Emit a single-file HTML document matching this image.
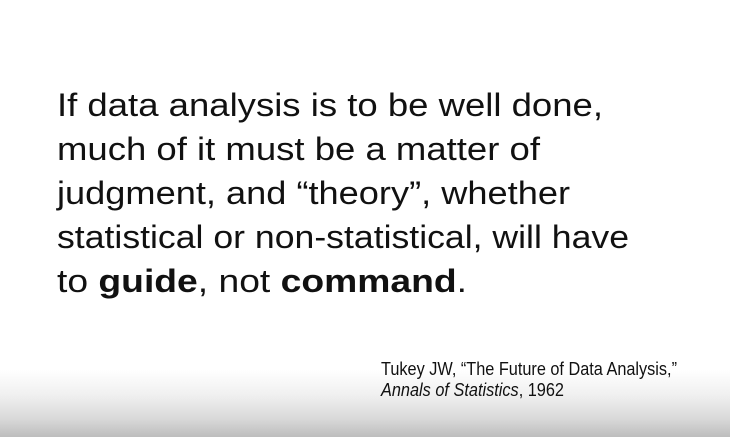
<!DOCTYPE html>
<html><head><meta charset="utf-8"><style>
html,body{margin:0;padding:0;}
body{width:730px;height:437px;overflow:hidden;background:linear-gradient(to bottom,#fff 0px,#fff 370px,#f0f0f0 395px,#dadada 418px,#bdbdbd 437px);}
svg{display:block;}
text{font-family:"Liberation Sans",sans-serif;fill:#111;}
</style></head><body>
<svg width="730" height="437">
<g font-size="32">
<text x="57" y="116" textLength="546" lengthAdjust="spacingAndGlyphs">If data analysis is to be well done,</text>
<text x="57" y="160" textLength="483" lengthAdjust="spacingAndGlyphs">much of it must be a matter of</text>
<text x="57" y="204" textLength="513" lengthAdjust="spacingAndGlyphs">judgment, and “theory”, whether</text>
<text x="57" y="248" textLength="572" lengthAdjust="spacingAndGlyphs">statistical or non-statistical, will have</text>
<text x="57" y="292" textLength="410" lengthAdjust="spacingAndGlyphs">to <tspan font-weight="bold">guide</tspan>, not <tspan font-weight="bold">command</tspan>.</text>
</g>
<g font-size="18">
<text x="381" y="375" textLength="296" lengthAdjust="spacingAndGlyphs">Tukey JW, “The Future of Data Analysis,”</text>
<text x="381" y="396" textLength="183" lengthAdjust="spacingAndGlyphs"><tspan font-style="italic">Annals of Statistics</tspan>, 1962</text>
</g>
</svg>
</body></html>
